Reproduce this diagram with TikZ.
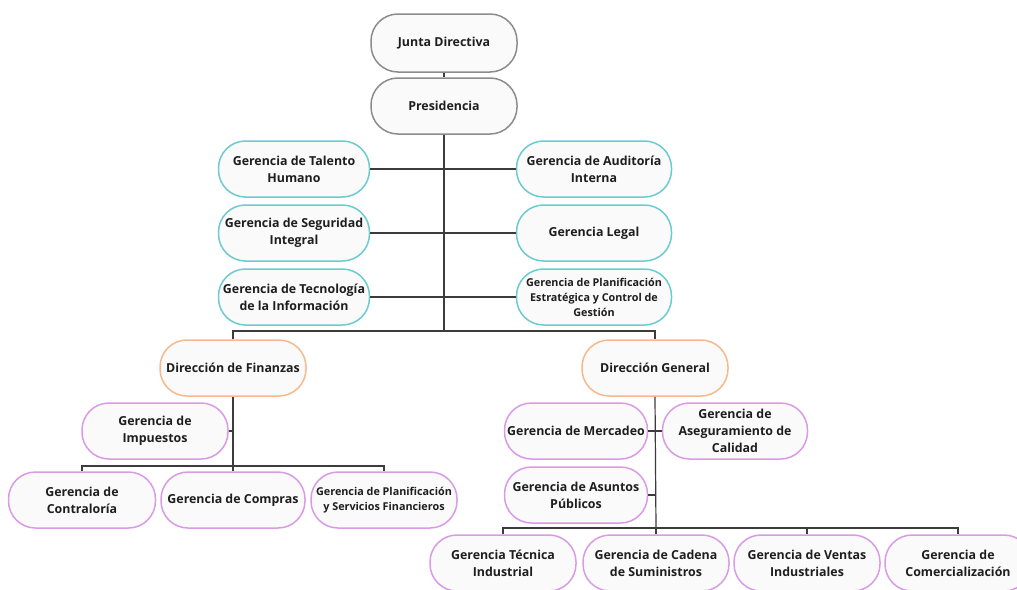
\documentclass[tikz,border=0pt]{standalone}
\usepackage{fontspec}
\setmainfont{Open Sans}
\definecolor{boxfill}{HTML}{FAFAFA}
\definecolor{txt}{HTML}{1E1E1E}
\definecolor{cgray}{HTML}{8C8C8C}
\definecolor{cteal}{HTML}{6CCBD0}
\definecolor{corange}{HTML}{F6B98E}
\definecolor{cpurple}{HTML}{D99BE6}
\definecolor{lnc}{HTML}{3C3C3C}
\tikzset{
  org/.style={draw, rectangle, rounded corners=27pt, line width=1.5pt, fill=boxfill,
    minimum width=146pt, minimum height=56pt, align=center, text=txt,
    inner sep=1pt, font=\bfseries\fontsize{12.4}{17}\selectfont},
  topb/.style={org, draw=cgray},
  tealb/.style={org, draw=cteal},
  orb/.style={org, draw=corange},
  purb/.style={org, draw=cpurple},
  small/.style={font=\bfseries\fontsize{10.8}{15}\selectfont},
  conn/.style={draw=lnc, line width=1.2pt}
}
\begin{document}
\begin{tikzpicture}[x=1pt,y=-1pt]
\useasboundingbox (0,0) rectangle (1017,589);
\clip (0,0) rectangle (1017,589);
\fill[white] (0,0) rectangle (1017,589);
% top
\node[topb, minimum height=58pt] (jd) at (444,43) {Junta Directiva};
\node[topb] (pres) at (444,106) {Presidencia};
% staff
\node[tealb, minimum width=151pt] (th) at (294,169) {Gerencia de Talento\\Humano};
\node[tealb, minimum width=155pt] (aud) at (594,169) {Gerencia de Auditoría\\Interna};
\node[tealb, minimum width=151pt] (seg) at (294,233) {Gerencia de Seguridad\\Integral};
\node[tealb, minimum width=155pt] (leg) at (594,233) {Gerencia Legal};
\node[tealb, minimum width=151pt] (tec) at (294,297) {Gerencia de Tecnología\\de la Información};
\node[tealb, minimum width=155pt, small] (pe) at (594,297) {Gerencia de Planificación\\Estratégica y Control de\\Gestión};
% directions
\node[orb] (df) at (233,368) {Dirección de Finanzas};
\node[orb] (dg) at (655,368) {Dirección General};
% finanzas
\node[purb] (imp) at (155,431) {Gerencia de\\Impuestos};
\node[purb, minimum width=147pt] (con) at (82,500) {Gerencia de\\Contraloría};
\node[purb, minimum width=144pt] (comp) at (233,500) {Gerencia de Compras};
\node[purb, small] (plan) at (384,500) {Gerencia de Planificación\\y Servicios Financieros};
% general
\node[purb, minimum width=143pt] (mer) at (576,431) {Gerencia de Mercadeo};
\node[purb, minimum width=145pt] (ase) at (735,431) {Gerencia de\\Aseguramiento de\\Calidad};
\node[purb, minimum width=143pt] (asu) at (576,495) {Gerencia de Asuntos\\Públicos};
\node[purb] (gti) at (503,563) {Gerencia Técnica\\Industrial};
\node[purb] (gcs) at (656,563) {Gerencia de Cadena\\de Suministros};
\node[purb] (gvi) at (807,563) {Gerencia de Ventas\\Industriales};
\node[purb] (gco) at (958,563) {Gerencia de\\Comercialización};
% bus coordinates
\coordinate (hub) at (444,331);
\coordinate (fbus) at (233,466);
\coordinate (gbus) at (656,528);
% connectors
\draw[conn] (jd) -- (pres);
\draw[conn] (pres) -- (hub);
\draw[conn] (th) -- (aud);
\draw[conn] (seg) -- (leg);
\draw[conn] (tec) -- (pe);
\draw[conn] (df.north) |- (hub) -| (dg.north);
\draw[conn] (df.south) -- (fbus);
\draw[conn] (imp.east) -- (imp.east -| fbus);
\draw[conn] (con.north) |- (fbus) -| (plan.north);
\draw[conn] (fbus) -- (comp.north);
\draw[conn] (dg.south) -- (gbus);
\draw[conn] (mer) -- (ase);
\draw[conn] (asu.east) -- (asu.east -| gbus);
\draw[conn] (gti.north) |- (gbus) -| (gco.north);
\draw[conn] (gvi.north) |- (gbus);
\draw[conn] (gbus) -- (gcs.north);
\end{tikzpicture}
\end{document}
